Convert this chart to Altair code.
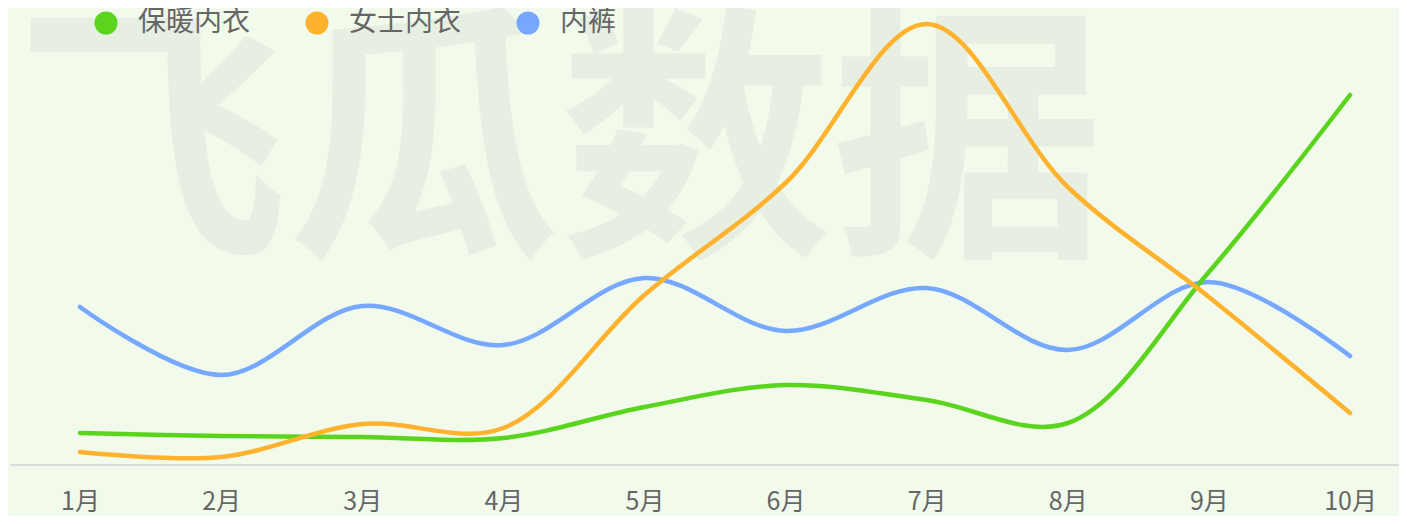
import altair as alt
import pandas as pd

months = ["1月", "2月", "3月", "4月", "5月", "6月", "7月", "8月", "9月", "10月"]
series = ["保暖内衣", "女士内衣", "内裤"]
warm = [32, 29, 28, 27, 58, 80, 65, 42, 193, 370]
women = [13, 8, 41, 37, 170, 282, 441, 278, 168, 52]
briefs = [158, 90, 159, 120, 187, 134, 177, 115, 183, 109]
line_colors = ["#5bd41e", "#ffb22d", "#76a8ff"]

rows = []
for name, vals in zip(series, [warm, women, briefs]):
    for m, v in zip(months, vals):
        rows.append({"月份": m, "系列": name, "值": v})
df = pd.DataFrame(rows)

W, H = 1391, 457
FONT = "Noto Sans CJK SC"

x_enc = alt.X("月份:N", sort=months,
              scale=alt.Scale(type="point", range=[72, 1342], padding=0),
              axis=alt.Axis(title=None, domain=False, ticks=False, tickSize=0, grid=False,
                            labelFont=FONT, labelFontSize=25, labelColor="#666666",
                            labelPadding=24, labelAngle=0))
y_enc = alt.Y("值:Q", scale=alt.Scale(domain=[0, 457], nice=False, zero=True), axis=None)
color_enc = alt.Color("系列:N",
                      scale=alt.Scale(domain=series, range=line_colors),
                      legend=alt.Legend(title=None, orient="none", direction="horizontal",
                                        legendX=84, legendY=1, padding=0, offset=0,
                                        symbolType="circle", symbolSize=530,
                                        symbolStrokeWidth=0, symbolOpacity=1,
                                        labelFont=FONT, labelFontSize=28,
                                        labelColor="#666666", labelOffset=18,
                                        columnPadding=52, labelLimit=300))

watermark = alt.Chart(pd.DataFrame({"t": ["飞瓜数据"]})).mark_text(
    font=FONT, fontSize=272, fontWeight="bold", color="#e6efe1",
    align="center", baseline="middle"
).encode(text="t:N", x=alt.value(552), y=alt.value(146))

baseline = alt.Chart(pd.DataFrame({"v": [0]})).mark_rule(
    color="#dcdcdc", strokeWidth=2
).encode(y=alt.Y("v:Q", scale=alt.Scale(domain=[0, 457], nice=False), axis=None),
         x=alt.value(2), x2=alt.value(W))

legend_dots = alt.Chart(df).mark_circle(opacity=0, size=0).encode(
    x=x_enc, y=y_enc, color=color_enc)

def line_for(name):
    return alt.Chart(df).transform_filter(alt.datum["系列"] == name).mark_line(
        interpolate="catmull-rom", strokeWidth=4.5, strokeCap="round", strokeJoin="round"
    ).encode(x=x_enc, y=y_enc, color=color_enc)

chart = alt.layer(
    watermark, baseline, legend_dots,
    line_for("内裤"), line_for("保暖内衣"), line_for("女士内衣")
).properties(
    width=W, height=H,
    autosize=alt.AutoSizeParams(type="none"),
    padding={"left": 0, "top": 0, "right": 0, "bottom": 51},
    background="#f1faeb"
).configure_view(stroke=None)

chart.save("out.html", embed_options={"renderer": "svg", "actions": False})
